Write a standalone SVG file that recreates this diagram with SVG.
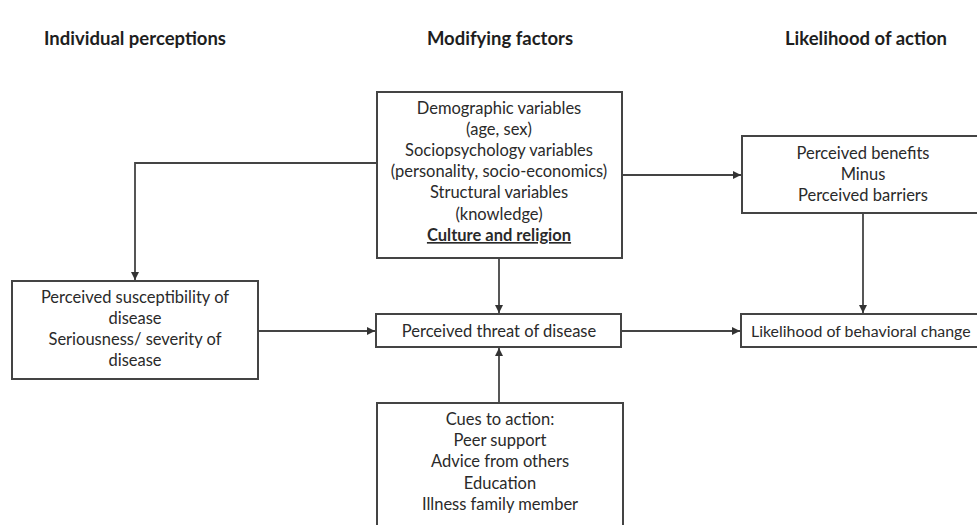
<svg xmlns="http://www.w3.org/2000/svg" width="977" height="525" viewBox="0 0 977 525">
<defs>
<style>
.box{fill:#fff;stroke:#444;stroke-width:2}
.t{font-family:Lato,"Open Sans","Liberation Sans",sans-serif;font-size:16.5px;fill:#2a2a2a;text-anchor:middle}
.s{text-anchor:start;font-size:15.9px}
.h{font-family:Lato,"Open Sans","Liberation Sans",sans-serif;font-size:18.5px;font-weight:bold;fill:#1e1e1e;text-anchor:middle}
.c{fill:none;stroke:#444;stroke-width:1.8}
</style>
<marker id="ah" viewBox="0 0 10 10" refX="10" refY="5" markerWidth="4.5" markerHeight="4.5" orient="auto" markerUnits="strokeWidth">
<path d="M0,0 L10,5 L0,10 z" fill="#333"/>
</marker>
</defs>
<rect width="977" height="525" fill="#fff"/>
<g id="headers">
<text class="h" x="135" y="45">Individual perceptions</text>
<text class="h" x="500" y="45">Modifying factors</text>
<text class="h" x="866" y="45">Likelihood of action</text>
</g>
<g id="connectors">
<polyline class="c" points="377,163 135,163 135,280" marker-end="url(#ah)"/>
<line class="c" x1="622" y1="175" x2="741" y2="175" marker-end="url(#ah)"/>
<line class="c" x1="499" y1="258" x2="499" y2="313" marker-end="url(#ah)"/>
<line class="c" x1="258" y1="331" x2="375" y2="331" marker-end="url(#ah)"/>
<line class="c" x1="621" y1="331" x2="740" y2="331" marker-end="url(#ah)"/>
<line class="c" x1="863" y1="213" x2="863" y2="313" marker-end="url(#ah)"/>
<line class="c" x1="499" y1="403" x2="499" y2="348" marker-end="url(#ah)"/>
</g>
<g id="modifying">
<rect class="box" x="377" y="92" width="245" height="166"/>
<text class="t" x="499" y="114">Demographic variables</text>
<text class="t" x="499" y="135">(age, sex)</text>
<text class="t" x="499" y="156">Sociopsychology variables</text>
<text class="t" x="499" y="177">(personality, socio-economics)</text>
<text class="t" x="499" y="198">Structural variables</text>
<text class="t" x="499" y="220">(knowledge)</text>
<text class="t" x="499" y="241" font-weight="bold" text-decoration="underline">Culture and religion</text>
</g>
<g id="benefits">
<rect class="box" x="742" y="136" width="250" height="77"/>
<text class="t" x="863" y="159">Perceived benefits</text>
<text class="t" x="863" y="180">Minus</text>
<text class="t" x="863" y="201">Perceived barriers</text>
</g>
<g id="susceptibility">
<rect class="box" x="12" y="281" width="246" height="98"/>
<text class="t" x="135" y="303">Perceived susceptibility of</text>
<text class="t" x="135" y="324">disease</text>
<text class="t" x="135" y="345">Seriousness/ severity of</text>
<text class="t" x="135" y="366">disease</text>
</g>
<g id="threat">
<rect class="box" x="376" y="314" width="245" height="33"/>
<text class="t" x="499" y="337">Perceived threat of disease</text>
</g>
<g id="likelihood">
<rect class="box" x="741" y="314" width="250" height="33"/>
<text class="t s" x="751" y="337">Likelihood of behavioral change</text>
</g>
<g id="cues">
<rect class="box" x="377" y="403" width="246" height="130"/>
<text class="t" x="500" y="425">Cues to action:</text>
<text class="t" x="500" y="446">Peer support</text>
<text class="t" x="500" y="467">Advice from others</text>
<text class="t" x="500" y="489">Education</text>
<text class="t" x="500" y="510">Illness family member</text>
</g>
</svg>
